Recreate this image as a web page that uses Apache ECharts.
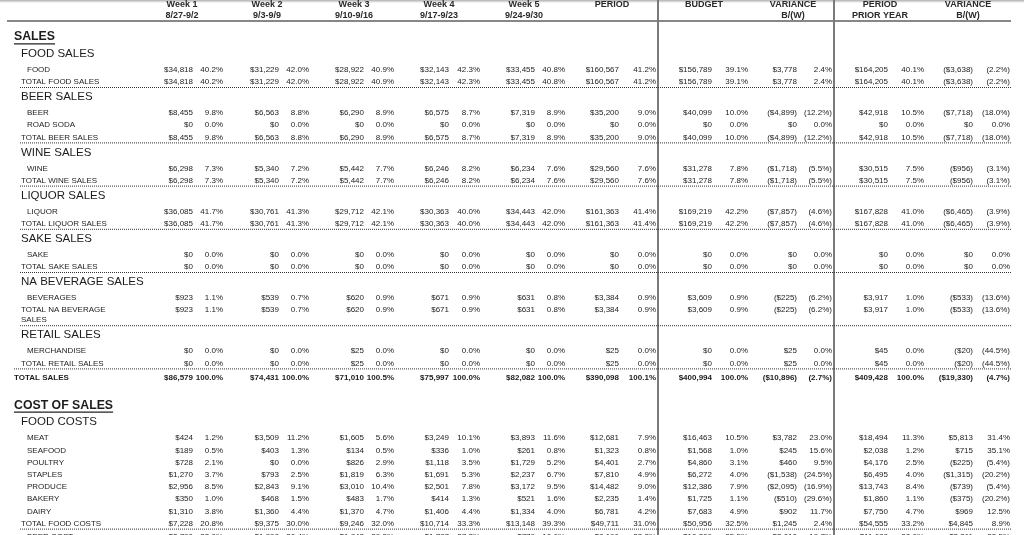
<!DOCTYPE html>
<html><head><meta charset="utf-8">
<script src="https://cdn.jsdelivr.net/npm/echarts@6/dist/echarts.min.js"></script>
<style>
html,body{margin:0;padding:0;background:#fff;}
#c{width:1024px;height:535px;background:linear-gradient(#b0b0b0 0px,#fff 3px);}
</style></head><body><div id="c"></div>
<script>
// ---------------- DATA ----------------
const rowLabels = ['SALES','FOOD SALES','FOOD','TOTAL FOOD SALES','BEER SALES','BEER','ROAD SODA','TOTAL BEER SALES',
  'WINE SALES','WINE','TOTAL WINE SALES','LIQUOR SALES','LIQUOR','TOTAL LIQUOR SALES','SAKE SALES','SAKE','TOTAL SAKE SALES',
  'NA BEVERAGE SALES','BEVERAGES','TOTAL NA BEVERAGE\nSALES','RETAIL SALES','MERCHANDISE','TOTAL RETAIL SALES','TOTAL SALES',
  'COST OF SALES','FOOD COSTS','MEAT','SEAFOOD','POULTRY','STAPLES','PRODUCE','BAKERY','DAIRY','TOTAL FOOD COSTS','BEER COST'];
const rowKinds = ['section','group','item','total','group','item','item','total',
  'group','item','total','group','item','total','group','item','total',
  'group','item','total','group','item','total','grand',
  'section','group','item','item','item','item','item','item','item','total','item'];

const headLine1 = ['Week 1','Week 2','Week 3','Week 4','Week 5','PERIOD','BUDGET','VARIANCE','PERIOD','VARIANCE'];
const headLine2 = ['8/27-9/2','9/3-9/9','9/10-9/16','9/17-9/23','9/24-9/30','','','B/(W)','PRIOR YEAR','B/(W)'];

// values for rows that carry numbers (item / total / grand rows, in order)
const week1Amt = [34818,34818,8455,0,8455,6298,6298,36085,36085,0,0,923,923,0,0,86579,424,189,728,1270,2956,350,1310,7228,2790];
const week1Pct = [40.2,40.2,9.8,0.0,9.8,7.3,7.3,41.7,41.7,0.0,0.0,1.1,1.1,0.0,0.0,100.0,1.2,0.5,2.1,3.7,8.5,1.0,3.8,20.8,33.0];
const week2Amt = [31229,31229,6563,0,6563,5340,5340,30761,30761,0,0,539,539,0,0,74431,3509,403,0,793,2843,468,1360,9375,1998];
const week2Pct = [42.0,42.0,8.8,0.0,8.8,7.2,7.2,41.3,41.3,0.0,0.0,0.7,0.7,0.0,0.0,100.0,11.2,1.3,0.0,2.5,9.1,1.5,4.4,30.0,30.4];
const week3Amt = [28922,28922,6290,0,6290,5442,5442,29712,29712,0,0,620,620,25,25,71010,1605,134,826,1819,3010,483,1370,9246,1842];
const week3Pct = [40.9,40.9,8.9,0.0,8.9,7.7,7.7,42.1,42.1,0.0,0.0,0.9,0.9,0.0,0.0,100.5,5.6,0.5,2.9,6.3,10.4,1.7,4.7,32.0,29.3];
const week4Amt = [32143,32143,6575,0,6575,6246,6246,30363,30363,0,0,671,671,0,0,75997,3249,336,1118,1691,2501,414,1406,10714,1787];
const week4Pct = [42.3,42.3,8.7,0.0,8.7,8.2,8.2,40.0,40.0,0.0,0.0,0.9,0.9,0.0,0.0,100.0,10.1,1.0,3.5,5.3,7.8,1.3,4.4,33.3,27.2];
const week5Amt = [33455,33455,7319,0,7319,6234,6234,34443,34443,0,0,631,631,0,0,82082,3893,261,1729,2237,3172,521,1334,13148,779];
const week5Pct = [40.8,40.8,8.9,0.0,8.9,7.6,7.6,42.0,42.0,0.0,0.0,0.8,0.8,0.0,0.0,100.0,11.6,0.8,5.2,6.7,9.5,1.6,4.0,39.3,10.6];
const periodAmt = [160567,160567,35200,0,35200,29560,29560,161363,161363,0,0,3384,3384,25,25,390098,12681,1323,4401,7810,14482,2235,6781,49711,8196];
const periodPct = [41.2,41.2,9.0,0.0,9.0,7.6,7.6,41.4,41.4,0.0,0.0,0.9,0.9,0.0,0.0,100.1,7.9,0.8,2.7,4.9,9.0,1.4,4.2,31.0,23.3];
const budgetAmt = [156789,156789,40099,0,40099,31278,31278,169219,169219,0,0,3609,3609,0,0,400994,16463,1568,4860,6272,12386,1725,7683,50956,10206];
const budgetPct = [39.1,39.1,10.0,0.0,10.0,7.8,7.8,42.2,42.2,0.0,0.0,0.9,0.9,0.0,0.0,100.0,10.5,1.0,3.1,4.0,7.9,1.1,4.9,32.5,25.5];
const varBudAmt = [3778,3778,-4899,0,-4899,-1718,-1718,-7857,-7857,0,0,-225,-225,25,25,-10896,3782,245,460,-1538,-2095,-510,902,1245,2010];
const varBudPct = [2.4,2.4,-12.2,0.0,-12.2,-5.5,-5.5,-4.6,-4.6,0.0,0.0,-6.2,-6.2,0.0,0.0,-2.7,23.0,15.6,9.5,-24.5,-16.9,-29.6,11.7,2.4,19.7];
const priorAmt = [164205,164205,42918,0,42918,30515,30515,167828,167828,0,0,3917,3917,45,45,409428,18494,2038,4176,6495,13743,1860,7750,54555,11688];
const priorPct = [40.1,40.1,10.5,0.0,10.5,7.5,7.5,41.0,41.0,0.0,0.0,1.0,1.0,0.0,0.0,100.0,11.3,1.2,2.5,4.0,8.4,1.1,4.7,33.2,28.0];
const varPriorAmt = [-3638,-3638,-7718,0,-7718,-956,-956,-6465,-6465,0,0,-533,-533,-20,-20,-19330,5813,715,-225,-1315,-739,-375,969,4845,2311];
const varPriorPct = [-2.2,-2.2,-18.0,0.0,-18.0,-3.1,-3.1,-3.9,-3.9,0.0,0.0,-13.6,-13.6,-44.5,-44.5,-4.7,31.4,35.1,-5.4,-20.2,-5.4,-20.2,12.5,8.9,22.5];

const columns = [[week1Amt,week1Pct],[week2Amt,week2Pct],[week3Amt,week3Pct],[week4Amt,week4Pct],[week5Amt,week5Pct],
  [periodAmt,periodPct],[budgetAmt,budgetPct],[varBudAmt,varBudPct],[priorAmt,priorPct],[varPriorAmt,varPriorPct]];

// ---------------- LAYOUT / STYLE ----------------
const FONT = "'Liberation Sans', Arial, sans-serif";
const INK = '#1c1c1c';
const colRight = [[193,223],[279,309],[364,394],[449,480],[535,565],[619,656],[712,748],[797,832],[888,924],[973,1010]];
const headCenter = [182,267,354,439,524,612,704,793,880,968];
const headY = [4.3, 16];
const labelX = {section:14, group:21, item:27, total:21, grand:14};
const firstRowY = 37;
const gapRules = {
  'section>group':16.8,'group>item':16,'item>item':12.2,'item>total':12.2,'total>group':15,
  'total>grand':14,'grand>section':28,'total>item':13.5
};
const lineStep = 10;

// derive row positions
const rowY = [];
rowLabels.forEach((lab,i)=>{
  if(i===0){ rowY.push(firstRowY); return; }
  const prevLines = rowLabels[i-1].split('\n').length;
  const g = gapRules[rowKinds[i-1]+'>'+rowKinds[i]] + (prevLines-1)*lineStep;
  rowY.push(rowY[i-1]+g);
});

const fmtAmt = v => { const s='$'+Math.abs(v).toLocaleString('en-US'); return v<0?'('+s+')':s; };
const fmtPct = v => { const s=Math.abs(v).toFixed(1)+'%'; return v<0?'('+s+')':s; };

const cells = [];   // text cells
const rules = [];   // lines
const fontFor = k => {
  if(k==='section') return 'bold 12.3px '+FONT;
  if(k==='group') return '11.5px '+FONT;
  if(k==='grand') return 'bold 8px '+FONT;
  return '8px '+FONT;
};
// header
headLine1.forEach((t,c)=>{
  cells.push({x:headCenter[c],y:headY[0],text:t,align:'center',font:'bold 9px '+FONT,fill:'#2a2a2a'});
  if(headLine2[c]) cells.push({x:headCenter[c],y:headY[1],text:headLine2[c],align:'center',font:'bold 9px '+FONT,fill:'#2a2a2a'});
});
rules.push({x1:7,y1:21,x2:1011,y2:21,color:'#111',w:1.2,dash:null});
// vertical dividers
rules.push({x1:658,y1:0,x2:658,y2:535,color:'#7a7a7a',w:2,dash:null});
rules.push({x1:834,y1:0,x2:834,y2:535,color:'#7a7a7a',w:2,dash:null});

const measure = (() => { const cx=document.createElement('canvas').getContext('2d'); return (t,f)=>{cx.font=f;return cx.measureText(t).width;}; })();

let vi = 0;
rowLabels.forEach((lab,i)=>{
  const k = rowKinds[i], y = rowY[i];
  const lines = lab.split('\n');
  lines.forEach((ln,j)=>{
    cells.push({x:labelX[k],y:y+j*lineStep,text:ln,align:'left',font:fontFor(k)});
  });
  if(k==='section'){
    const w = measure(lab, fontFor(k));
    rules.push({x1:labelX[k],y1:y+6.8,x2:labelX[k]+w,y2:y+6.8,color:'#222',w:1.2,dash:null});
  }
  if(k==='item'||k==='total'||k==='grand'){
    const f = k==='grand' ? 'bold 8px '+FONT : '8px '+FONT;
    columns.forEach((col,c)=>{
      cells.push({x:colRight[c][0],y:y,text:fmtAmt(col[0][vi]),align:'right',font:f});
      cells.push({x:colRight[c][1],y:y,text:fmtPct(col[1][vi]),align:'right',font:f});
    });
    vi++;
  }
  if(k==='total'){
    const ly = y + 5.5 + (lines.length-1)*lineStep;
    const nextK = rowKinds[i+1];
    rules.push({x1: nextK==='grand'?14:20, y1:ly, x2:1011, y2:ly, color:'#333', w:1, dash:[1,1]});
  }
});

// ---------------- CHART ----------------
const chart = echarts.init(document.getElementById('c'), null, {renderer:'canvas'});
chart.setOption({
  backgroundColor:'transparent',
  animation:false,
  grid:{left:0,right:0,top:0,bottom:0},
  xAxis:{type:'value',min:0,max:1024,show:false},
  yAxis:{type:'value',min:0,max:535,inverse:true,show:false},
  series:[
    {
      type:'custom', clip:false, silent:true,
      data: rules.map((r,i)=>[r.x1,r.y1,r.x2,r.y2,i]),
      renderItem:(p,api)=>{
        const r = rules[api.value(4)];
        const a = api.coord([api.value(0),api.value(1)]);
        const b = api.coord([api.value(2),api.value(3)]);
        return {type:'line',shape:{x1:a[0],y1:a[1],x2:b[0],y2:b[1]},
          style:{stroke:r.color,lineWidth:r.w,lineDash:r.dash||null}};
      }
    },
    {
      type:'custom', clip:false, silent:true,
      data: cells.map((c,i)=>[c.x,c.y,i]),
      renderItem:(p,api)=>{
        const c = cells[api.value(2)];
        const pt = api.coord([api.value(0),api.value(1)]);
        return {type:'text',x:pt[0],y:pt[1],
          style:{text:c.text,font:c.font,fill:c.fill||INK,align:c.align,verticalAlign:'middle',
            textAlign:c.align,textVerticalAlign:'middle'}};
      }
    }
  ]
});
</script></body></html>
